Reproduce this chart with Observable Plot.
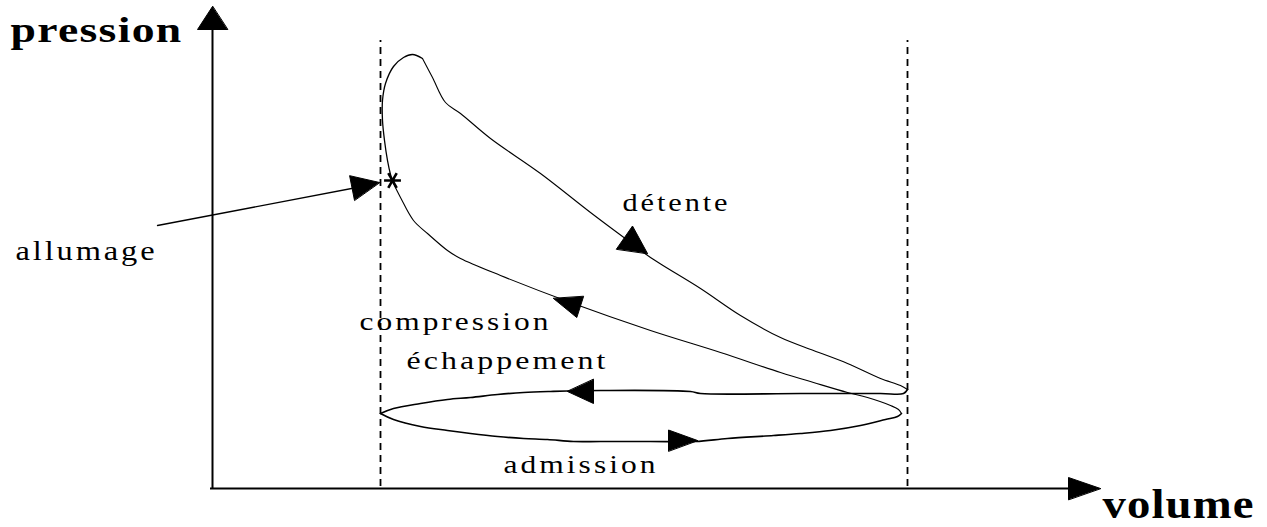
<!DOCTYPE html>
<html>
<head>
<meta charset="utf-8">
<script src="https://cdn.jsdelivr.net/npm/d3@7"></script>
<script src="https://cdn.jsdelivr.net/npm/@observablehq/plot@0.6"></script>
<style>
  html, body { margin: 0; padding: 0; background: #fff; }
  #chart svg { display: block; }
</style>
</head>
<body>
<div id="chart"></div>
<script>
// ---- Cycle data, [volume, pression] (arbitrary units) ----
const admission = [[168,75],[181,69],[208,62],[235,58],[258,55],[285,52],[311,50],[335,49],[361,47],[388,47],[438,47],[483,47],[515,50],[561,53],[588,55],[618,58],[648,63],[673,69],[685,72],[689,75]];
const compression = [[689,75],[686,79],[678,83],[655,91],[635,96],[601,106],[568,116],[508,136],[438,158],[358,186],[288,213],[248,230],[235,238],[215,255],[201,268],[188,291],[180,307]];
const combustion = [[180,307],[178,314],[175,328],[172,348],[170,368],[170,388],[173,405],[181,422],[191,431],[200,434],[210,430]];
const detente = [[210,430],[220,411],[233,386],[248,375],[278,350],[328,315],[378,276],[418,246],[438,231],[488,200],[528,173],[568,151],[601,138],[635,125],[668,110],[688,103],[695,99]];
const echappement = [[695,99],[691,95],[668,95],[588,95],[488,95],[478,97],[388,98],[338,97],[311,96],[285,94],[258,91],[235,89],[208,85],[181,80],[168,75]];

// dead centres (volume)
const deadCentres = [168, 695];
// ignition point and its pointer
const ignition = [[180, 308]];
const pointer = [[-55, 263], [160, 304]];

// arrowheads: tip [v, p], direction [dv, dp], length, width
const arrowTips = [[0,482],[888,0],[167,306],[435,235],[341,190],[355,97],[485,48]];
const arrowDirs = [[0,1],[1,0],[222,44],[23,-16],[-28,9],[-1,0],[1,0]];
const arrowLen  = [23,32,28,28,28,26,29];
const arrowWid  = [30,22,25,28,22,24,21];

// labels
const labelTexts = ["pression","volume","allumage","détente","compression","échappement","admission"];
const labelPos   = [[-202,447],[890,-29],[-197,229],[410,278],[147,159],[194,120],[291,16]];
const labelWidth = [172,152,142,108,192,202,155];
const labelSize  = [35,42,28,26,26,26,26];
const labelBold  = [true,true,false,false,false,false,false];

// ---- build tables ----
const toRows = (pts) => pts.map(([v, p]) => ({v, p}));
const triangles = [];
arrowTips.forEach(([tv, tp], i) => {
  const [dv, dp] = arrowDirs[i];
  const n = Math.hypot(dv, dp), ux = dv / n, uy = dp / n;
  const bx = tv - ux * arrowLen[i], by = tp - uy * arrowLen[i];
  const hw = arrowWid[i] / 2;
  triangles.push({id: i, v: tv, p: tp});
  triangles.push({id: i, v: bx - uy * hw, p: by + ux * hw});
  triangles.push({id: i, v: bx + uy * hw, p: by - ux * hw});
});
const labels = labelTexts.map((t, i) => ({text: t, v: labelPos[i][0], p: labelPos[i][1], size: labelSize[i], bold: labelBold[i]}));

const serif = "Liberation Serif, Times New Roman, Times, serif";

const chart = Plot.plot({
  width: 1267,
  height: 527,
  margin: 0,
  x: {domain: [-212, 1055], range: [0, 1267], axis: null},
  y: {domain: [-39, 488], range: [527, 0], axis: null},
  style: {background: "#fff", color: "#000"},
  marks: [
    // axes
    Plot.ruleX([0], {y1: 0, y2: 460, stroke: "#000", strokeWidth: 2}),
    Plot.ruleY([0], {x1: -2, x2: 860, stroke: "#000", strokeWidth: 2}),
    // dead centres
    Plot.ruleX(deadCentres, {y1: 2, y2: 448, stroke: "#000", strokeWidth: 1.8, strokeDasharray: "7,5"}),
    // cycle
    Plot.line(toRows(admission), {x: "v", y: "p", curve: "catmull-rom", stroke: "#000", strokeWidth: 1.6}),
    Plot.line(toRows(echappement), {x: "v", y: "p", curve: "catmull-rom", stroke: "#000", strokeWidth: 1.6}),
    Plot.line(toRows(compression), {x: "v", y: "p", curve: "catmull-rom", stroke: "#000", strokeWidth: 1.1}),
    Plot.line(toRows(combustion), {x: "v", y: "p", curve: "catmull-rom", stroke: "#000", strokeWidth: 1.3}),
    Plot.line(toRows(detente), {x: "v", y: "p", curve: "catmull-rom", stroke: "#000", strokeWidth: 1.1}),
    // ignition pointer
    Plot.line(toRows(pointer), {x: "v", y: "p", stroke: "#000", strokeWidth: 1.3}),
    Plot.dot(toRows(ignition), {x: "v", y: "p", symbol: "asterisk", r: 8, stroke: "#000", strokeWidth: 2.6, rotate: 90}),
    // arrowheads
    Plot.line(triangles, {x: "v", y: "p", z: "id", curve: "linear-closed", fill: "#000", stroke: "#000", strokeWidth: 1}),
    // labels
    Plot.text(labels.filter(d => d.bold), {x: "v", y: "p", text: "text", textAnchor: "start", lineAnchor: "bottom", fontSize: "size", fontWeight: "bold", fontFamily: serif, fill: "#000"}),
    Plot.text(labels.filter(d => !d.bold), {x: "v", y: "p", text: "text", textAnchor: "start", lineAnchor: "bottom", fontSize: "size", fontFamily: serif, fill: "#000"})
  ]
});

document.getElementById("chart").appendChild(chart);

// stretch the labels to the widths they have in the figure (some letter spacing, rest by glyph scaling)
d3.select(chart).selectAll("text").each(function() {
  const i = labelTexts.indexOf(this.textContent);
  if (i >= 0) {
    this.style.letterSpacing = labelBold[i] ? "1px" : "2.5px";
    this.setAttribute("textLength", labelWidth[i]);
    this.setAttribute("lengthAdjust", "spacingAndGlyphs");
  }
});
</script>
</body>
</html>
